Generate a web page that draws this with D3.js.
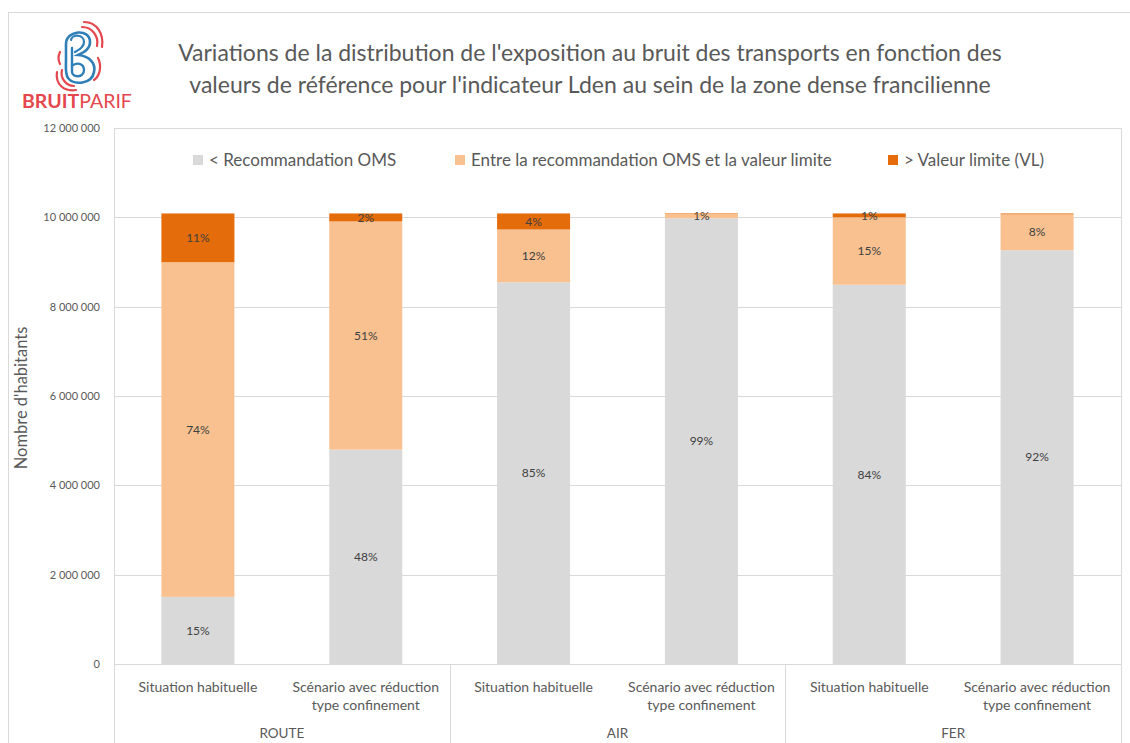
<!DOCTYPE html>
<html lang="fr">
<head>
<meta charset="utf-8">
<script src="https://cdn.jsdelivr.net/npm/d3@7"></script>
<style>
  html, body { margin: 0; padding: 0; background: #ffffff; }
  svg { display: block; font-family: Lato, "Open Sans", sans-serif; }
</style>
</head>
<body>
<svg id="chart" width="1130" height="743"></svg>
<script>
// Transport modes (top-level categories) and scenarios (sub-categories)
const modes = ["ROUTE", "AIR", "FER"];
const scenarios = ["Situation habituelle", "Scénario avec réduction type confinement"];

// Inhabitants per exposure class, one value per bar (mode × scenario)
const belowOMS      = [1503000, 4800000, 8546000, 9980000, 8490000, 9264000];
const betweenOMSVL  = [7492000, 5108000, 1182000,   95000, 1510000,  803000];
const aboveVL       = [1092000,  179000,  359000,   12000,   87000,   20000];

// Series labels (legend order)
const seriesNames = ["< Recommandation OMS", "Entre la recommandation OMS et la valeur limite", "> Valeur limite (VL)"];
const seriesColors = ["#d9d9d9", "#f9c190", "#e46c0a"];

// Y axis ticks
const yTicks = [0, 2000000, 4000000, 6000000, 8000000, 10000000, 12000000];

const titleLines = [
  "Variations de la distribution de l'exposition au bruit des transports en fonction des",
  "valeurs de référence  pour l'indicateur Lden au sein de la zone dense francilienne"
];

const svg = d3.select("#chart");
const plot = { left: 114, right: 1121, top: 128, bottom: 664 };
const textGrey = "#595959";
const lineGrey = "#d9d9d9";

// Outer chart frame
svg.append("rect")
  .attr("x", 8.5).attr("y", 12.5).attr("width", 1140).attr("height", 760)
  .attr("fill", "none").attr("stroke", "#d9d9d9");

// Bars: one band per (mode, scenario)
const barKeys = [];
modes.forEach(m => scenarios.forEach(s => barKeys.push(m + "|" + s)));

const x = d3.scaleBand()
  .domain(barKeys)
  .range([plot.left, plot.right])
  .paddingInner(0.565)
  .paddingOuter(0.2825);

const y = d3.scaleLinear().domain([0, 12000000]).range([plot.bottom, plot.top]);

const fmtLocale = d3.formatLocale({ decimal: ",", thousands: " ", grouping: [3], currency: ["", " €"] });
const fmt = fmtLocale.format(",d");

// Gridlines
svg.append("g")
  .selectAll("line")
  .data(yTicks.filter(t => t > 0 && t < 12000000))
  .join("line")
  .attr("x1", plot.left).attr("x2", plot.right)
  .attr("y1", d => Math.round(y(d)) + 0.5).attr("y2", d => Math.round(y(d)) + 0.5)
  .attr("stroke", lineGrey).attr("stroke-width", 1);

// Y axis labels
const yAxis = d3.axisLeft(y).tickValues(yTicks).tickFormat(fmt).tickSize(0).tickPadding(14);
const yG = svg.append("g").attr("transform", `translate(${plot.left},0)`).call(yAxis);
yG.select(".domain").remove();
yG.selectAll("text")
  .attr("fill", textGrey).attr("font-size", 11).attr("font-family", "Lato, sans-serif");

// Stacked data
const table = barKeys.map((k, i) => ({ key: k, s0: belowOMS[i], s1: betweenOMSVL[i], s2: aboveVL[i] }));
const stack = d3.stack().keys(["s0", "s1", "s2"]);
const layers = stack(table);

const layerG = svg.append("g")
  .selectAll("g")
  .data(layers)
  .join("g")
  .attr("fill", (d, i) => seriesColors[i]);

layerG.selectAll("rect")
  .data(d => d)
  .join("rect")
  .attr("x", d => x(d.data.key))
  .attr("width", x.bandwidth())
  .attr("y", d => y(d[1]))
  .attr("height", d => y(d[0]) - y(d[1]));

// Percentage labels within each segment (share of the bar total)
layerG.selectAll("text")
  .data(d => d)
  .join("text")
  .filter(d => {
    const tot = d.data.s0 + d.data.s1 + d.data.s2;
    return Math.round((d[1] - d[0]) / tot * 100) > 0;
  })
  .attr("x", d => x(d.data.key) + x.bandwidth() / 2)
  .attr("y", d => (y(d[0]) + y(d[1])) / 2)
  .attr("dy", "0.35em")
  .attr("text-anchor", "middle")
  .attr("fill", "#404040")
  .attr("font-size", 12)
  .text(d => {
    const tot = d.data.s0 + d.data.s1 + d.data.s2;
    return Math.round((d[1] - d[0]) / tot * 100) + "%";
  });

// Plot frame (top, right) and category axis
const frame = svg.append("g").attr("stroke", lineGrey).attr("fill", "none");
frame.append("line").attr("x1", plot.left).attr("x2", plot.right + 0.5).attr("y1", plot.top + 0.5).attr("y2", plot.top + 0.5);
frame.append("line").attr("x1", plot.right + 0.5).attr("x2", plot.right + 0.5).attr("y1", plot.top).attr("y2", 743);
frame.append("line").attr("x1", plot.left + 0.5).attr("x2", plot.left + 0.5).attr("y1", plot.top).attr("y2", 743);
frame.append("line").attr("x1", plot.left).attr("x2", plot.right).attr("y1", plot.bottom + 0.5).attr("y2", plot.bottom + 0.5);

// Group separators below the axis
const groupX = d3.scalePoint().domain(d3.range(modes.length + 1)).range([plot.left, plot.right]);
frame.selectAll("line.sep")
  .data(d3.range(1, modes.length))
  .join("line")
  .attr("class", "sep")
  .attr("x1", d => Math.round(groupX(d)) + 0.5).attr("x2", d => Math.round(groupX(d)) + 0.5)
  .attr("y1", plot.bottom).attr("y2", 743);

// Scenario labels (wrapped as in the source layout)
const scenarioLines = {
  "Situation habituelle": ["Situation habituelle"],
  "Scénario avec réduction type confinement": ["Scénario avec réduction", "type confinement"]
};
const subG = svg.append("g").attr("fill", textGrey).attr("font-size", 14).attr("text-anchor", "middle");
barKeys.forEach(k => {
  const s = k.split("|")[1];
  const t = subG.append("text").attr("x", x(k) + x.bandwidth() / 2).attr("y", 692);
  scenarioLines[s].forEach((ln, j) => {
    t.append("tspan").attr("x", x(k) + x.bandwidth() / 2).attr("dy", j === 0 ? 0 : 18).text(ln);
  });
});

// Mode labels
svg.append("g").attr("fill", textGrey).attr("font-size", 13.5).attr("text-anchor", "middle")
  .selectAll("text")
  .data(modes)
  .join("text")
  .attr("x", (d, i) => (groupX(i) + groupX(i + 1)) / 2)
  .attr("y", 738)
  .text(d => d);

// Y axis title
svg.append("text")
  .attr("transform", "translate(27,398) rotate(-90)")
  .attr("text-anchor", "middle")
  .attr("fill", textGrey)
  .attr("font-size", 16.5)
  .text("Nombre d'habitants");

// Title
svg.append("g").attr("fill", textGrey).attr("font-size", 23).attr("text-anchor", "middle")
  .selectAll("text")
  .data(titleLines)
  .join("text")
  .attr("x", 590)
  .attr("y", (d, i) => 61 + i * 32)
  .text(d => d);

// Legend
const legendX = [193, 455, 888];
const legend = svg.append("g").attr("font-size", 17).attr("fill", textGrey);
seriesNames.forEach((n, i) => {
  legend.append("rect").attr("x", legendX[i]).attr("y", 155).attr("width", 10).attr("height", 10).attr("fill", seriesColors[i]);
  legend.append("text").attr("x", legendX[i] + 16).attr("y", 166).text(n);
});

// Logo
const logo = svg.append("g").attr("fill", "none").attr("stroke-linecap", "round");
const blue = "#2e7fb8", red = "#e4474d";
// outer B contour
logo.append("path").attr("stroke", blue).attr("stroke-width", 2.6)
  .attr("d", "M66,44 C66,30 90,28 90,42 C90,50 82,53 78,55 C90,56 96,64 94,72 C92,84 74,86 68,78 C65,74 66,66 66,60 Z");
// inner b
logo.append("path").attr("stroke", blue).attr("stroke-width", 2.4)
  .attr("d", "M72,48 L72,72 C72,78 84,78 84,70 C84,63 76,62 72,66");
logo.append("path").attr("stroke", blue).attr("stroke-width", 2.2)
  .attr("d", "M71,40 C72,34 84,34 84,42 C84,47 79,50 75,52");
// red sound arcs, top right
logo.append("path").attr("stroke", red).attr("stroke-width", 2.2)
  .attr("d", "M82,27 C92,27 99,36 97,46");
logo.append("path").attr("stroke", red).attr("stroke-width", 2.2)
  .attr("d", "M84,22 C97,22 104,34 102,47");
logo.append("path").attr("stroke", red).attr("stroke-width", 2.2)
  .attr("d", "M98,58 C102,66 100,76 94,80");
// red sound arcs, bottom left
logo.append("path").attr("stroke", red).attr("stroke-width", 2.2)
  .attr("d", "M62,70 C60,78 66,86 74,86");
logo.append("path").attr("stroke", red).attr("stroke-width", 2.2)
  .attr("d", "M57,72 C55,84 64,92 76,90");
logo.append("path").attr("stroke", red).attr("stroke-width", 2.2)
  .attr("d", "M60,52 C58,56 58,60 60,64");
const logoText = svg.append("text").attr("x", 22).attr("y", 108).attr("font-size", 19.5).attr("fill", red).attr("font-family", "Lato, sans-serif");
logoText.append("tspan").attr("font-weight", 700).text("BRUIT");
logoText.append("tspan").attr("font-weight", 400).text("PARIF");
</script>
</body>
</html>
